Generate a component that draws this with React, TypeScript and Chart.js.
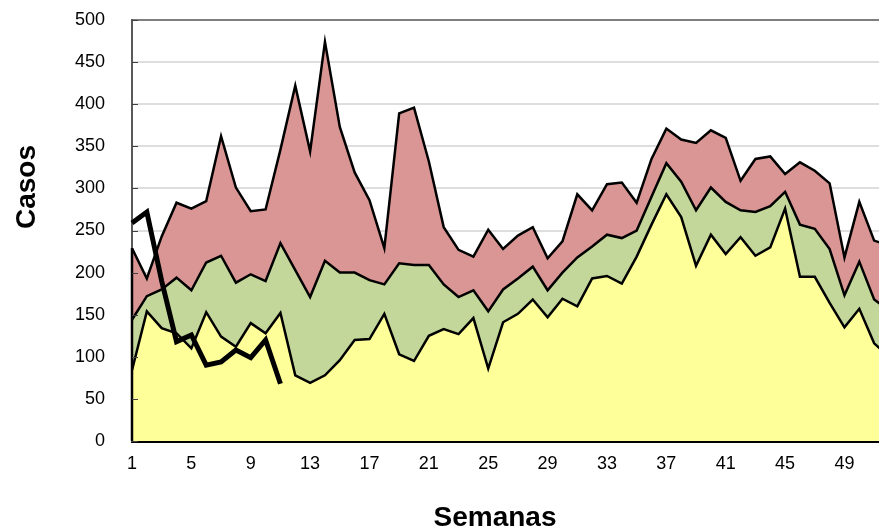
import React, { useEffect, useRef } from "react";
import { Chart, registerables } from "chart.js";

Chart.register(...registerables);

// Epidemiological weeks (categories)
const weeks = [
  "1", "2", "3", "4", "5", "6", "7", "8", "9", "10",
  "11", "12", "13", "14", "15", "16", "17", "18", "19", "20",
  "21", "22", "23", "24", "25", "26", "27", "28", "29", "30",
  "31", "32", "33", "34", "35", "36", "37", "38", "39", "40",
  "41", "42", "43", "44", "45", "46", "47", "48", "49", "50",
  "51", "52",
];

// Week labels shown on the x axis
const xTickLabels = ["1", "5", "9", "13", "17", "21", "25", "29", "33", "37", "41", "45", "49"];

// Lower boundary (yellow zone)
const lowerLimit = [
  84, 154, 134, 128, 110, 153, 124, 112, 140, 128,
  152, 78, 69, 78, 96, 120, 121, 151, 103, 95,
  125, 133, 127, 146, 86, 141, 151, 168, 147, 169,
  160, 193, 196, 187, 219, 257, 293, 266, 208, 245,
  222, 242, 220, 230, 276, 195, 195, 164, 135, 157,
  116, 100,
];

// Median (green zone)
const median = [
  144, 172, 180, 194, 179, 212, 220, 188, 198, 190,
  235, 203, 171, 214, 200, 200, 191, 186, 211, 209,
  209, 186, 171, 179, 154, 180, 193, 207, 179, 200,
  218, 231, 245, 241, 250, 290, 330, 308, 274, 301,
  284, 274, 272, 279, 296, 257, 252, 228, 173, 213,
  168, 155,
];

// Upper boundary (red zone)
const upperLimit = [
  229, 193, 243, 283, 276, 285, 362, 301, 273, 275,
  346, 422, 344, 474, 373, 319, 286, 229, 389, 396,
  332, 254, 227, 219, 251, 228, 244, 254, 217, 237,
  293, 274, 305, 307, 283, 335, 371, 358, 354, 369,
  360, 309, 335, 338, 317, 331, 321, 306, 218, 284,
  238, 232,
];

// Current year cases
const currentYear = [259, 272, 190, 118, 126, 90, 94, 108, 99, 120, 68];

const FONT_FAMILY = '"Liberation Sans", Arial, Helvetica, sans-serif';

// Axis titles, plus the inner y tick marks and the area's left outline (Excel style)
const decorPlugin = {
  id: "decor",
  afterDatasetsDraw(chart: any) {
    const ctx = chart.ctx;
    const y = chart.scales.y;
    const x = chart.scales.x;
    const left = chart.chartArea.left;
    ctx.save();
    // left outline of the stacked areas
    ctx.strokeStyle = "#000000";
    ctx.lineWidth = 2.5;
    ctx.beginPath();
    ctx.moveTo(x.getPixelForValue(0), y.getPixelForValue(0));
    ctx.lineTo(x.getPixelForValue(0), y.getPixelForValue(upperLimit[0]));
    ctx.stroke();
    // inner tick marks on y axis
    ctx.strokeStyle = "#404040";
    ctx.lineWidth = 1;
    y.ticks.forEach((t: any) => {
      const py = Math.round(y.getPixelForValue(t.value)) + 0.5;
      ctx.beginPath();
      ctx.moveTo(left, py);
      ctx.lineTo(left + 6, py);
      ctx.stroke();
    });
    ctx.restore();
  },
  afterDraw(chart: any) {
    const ctx = chart.ctx;
    ctx.save();
    ctx.fillStyle = "#000";
    ctx.font = `bold 28px ${FONT_FAMILY}`;
    ctx.textAlign = "center";
    ctx.textBaseline = "middle";
    ctx.fillText("Semanas", 495, 518);
    ctx.translate(27, 187);
    ctx.rotate(-Math.PI / 2);
    ctx.fillText("Casos", 0, 0);
    ctx.restore();
  },
};

export default function App() {
  const canvasRef = useRef<HTMLCanvasElement | null>(null);

  useEffect(() => {
    if (!canvasRef.current) return;
    const chart = new Chart(canvasRef.current, {
      type: "line",
      data: {
        labels: weeks,
        datasets: [
          {
            label: "Año actual",
            data: currentYear,
            borderColor: "#000000",
            borderWidth: 5,
            fill: false,
            pointRadius: 0,
          },
          {
            label: "Zona de éxito",
            data: lowerLimit,
            borderColor: "#000000",
            borderWidth: 2.5,
            backgroundColor: "#FFFF99",
            fill: "origin",
            pointRadius: 0,
          },
          {
            label: "Zona de seguridad",
            data: median,
            borderColor: "#000000",
            borderWidth: 2.5,
            backgroundColor: "#C4D79B",
            fill: "origin",
            pointRadius: 0,
          },
          {
            label: "Zona de alerta",
            data: upperLimit,
            borderColor: "#000000",
            borderWidth: 2.5,
            backgroundColor: "#DA9694",
            fill: "origin",
            pointRadius: 0,
          },
        ],
      },
      options: {
        animation: false,
        responsive: false,
        events: [],
        layout: { padding: { top: 20, right: 11, left: 0, bottom: 0 } },
        elements: { line: { tension: 0 }, point: { radius: 0 } },
        plugins: {
          legend: { display: false },
          tooltip: { enabled: false },
          title: { display: false },
        },
        scales: {
          x: {
            type: "category",
            offset: false,
            z: 1,
            grid: {
              drawOnChartArea: false,
              drawTicks: true,
              tickLength: -6,
              tickColor: "#000000",
              tickWidth: 1,
            },
            border: { display: true, color: "#000000", width: 3 },
            ticks: {
              autoSkip: false,
              maxRotation: 0,
              minRotation: 0,
              padding: 0,
              color: "#000000",
              font: { family: FONT_FAMILY, size: 18, lineHeight: 3.2 },
              callback: (_v: any, i: number) =>
                xTickLabels.includes(weeks[i]) ? weeks[i] : "",
            },
            afterFit: (s: any) => {
              s.height = 91;
            },
          },
          y: {
            min: 0,
            max: 500,
            ticks: {
              stepSize: 50,
              padding: 0,
              color: "#000000",
              font: { family: FONT_FAMILY, size: 18 },
            },
            grid: {
              drawTicks: true,
              tickLength: 27,
              tickColor: "rgba(0,0,0,0)",
              color: (c: any) =>
                c.tick && c.tick.value === 500
                  ? "#7f7f7f"
                  : c.tick && c.tick.value === 0
                  ? "rgba(0,0,0,0)"
                  : "#dedede",
              lineWidth: 2,
            },
            border: { display: true, color: "#595959", width: 2 },
            afterFit: (s: any) => {
              s.width = 132;
            },
          },
        },
      },
      plugins: [decorPlugin],
    } as any);
    return () => chart.destroy();
  }, []);

  return (
    <div
      style={{
        position: "fixed",
        left: 0,
        top: 0,
        width: 879,
        height: 532,
        overflow: "hidden",
        background: "#ffffff",
      }}
    >
      <canvas ref={canvasRef} width={900} height={532} style={{ display: "block" }} />
    </div>
  );
}
